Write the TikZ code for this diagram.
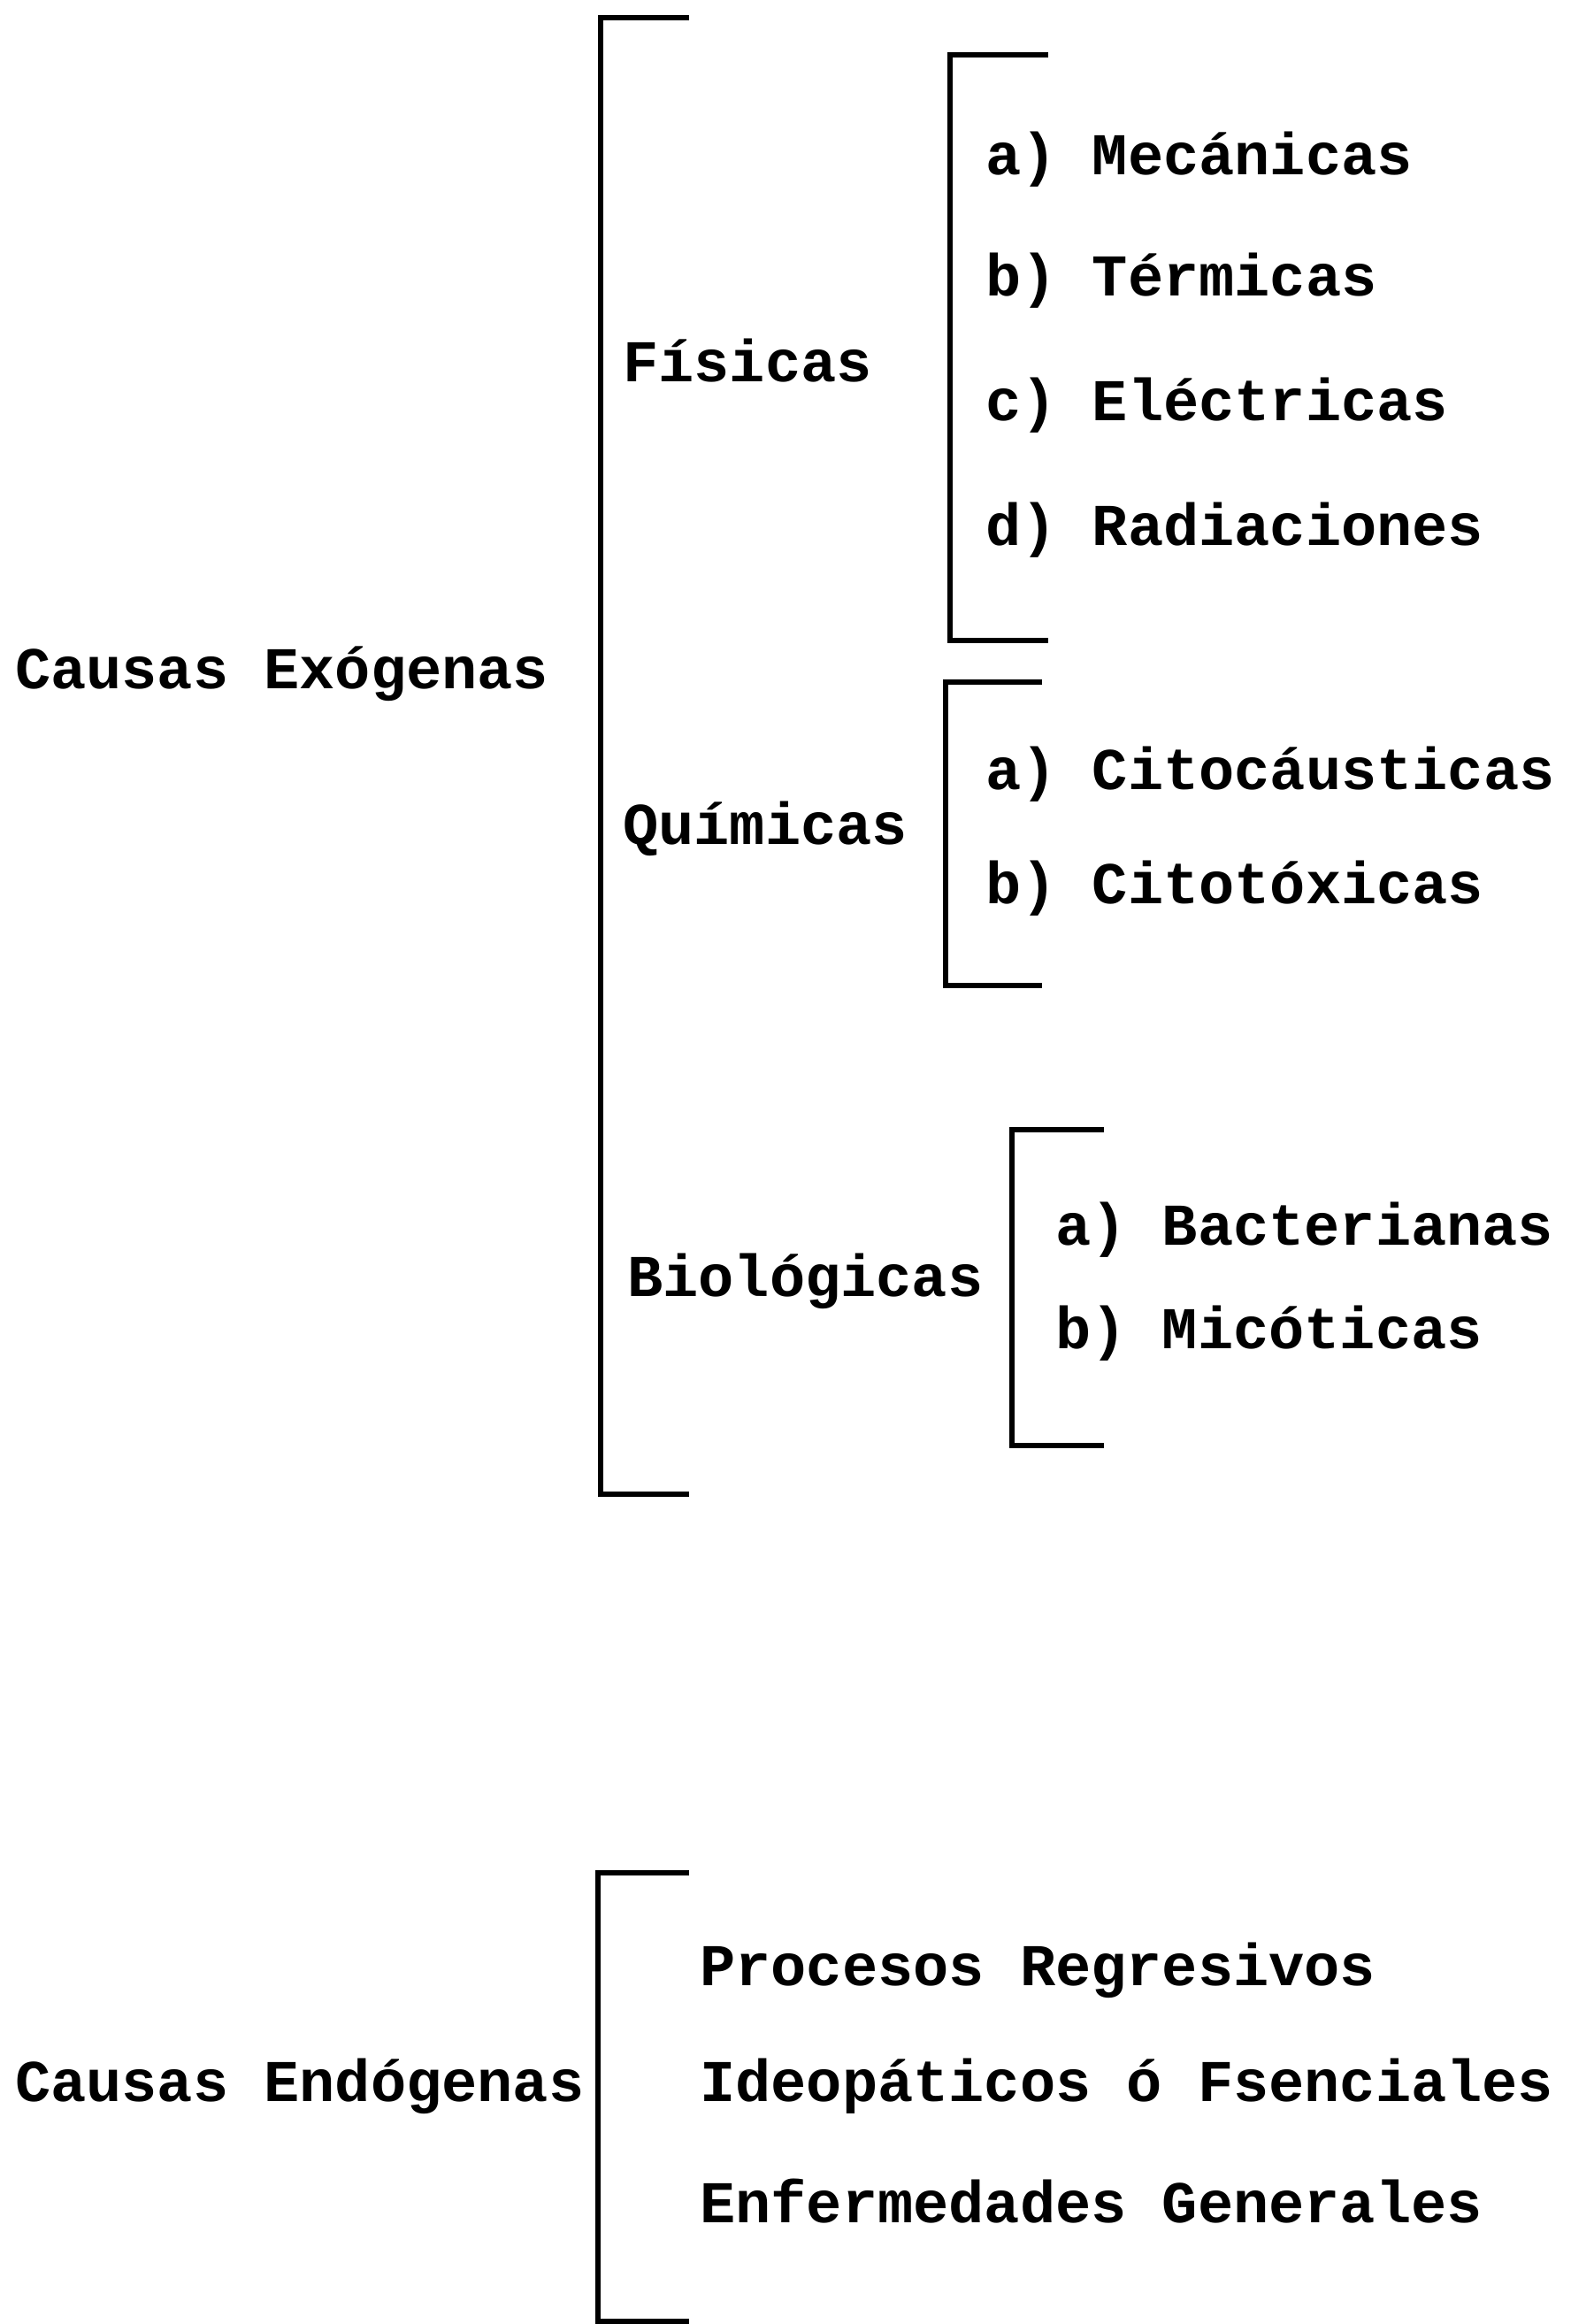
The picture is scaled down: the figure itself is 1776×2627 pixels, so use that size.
\documentclass[tikz,border=0pt]{standalone}
\usepackage{fontspec}
\usepackage{tikz}
\usetikzlibrary{positioning}
\newfontfamily\typewriter{Liberation Mono}

\begin{document}
\begin{tikzpicture}[x=1pt, y=-1pt,
    txt/.style={anchor=west, inner sep=0pt, text height=0.62em, text depth=0.2em,
      font=\typewriter\bfseries\fontsize{67}{80}\selectfont},
    brk/.style={line width=6pt, line join=miter}]
      \useasboundingbox (0,0) rectangle (1776,2627);

      % Causas Exogenas
      \draw[brk] (779,20) -- (679,20) -- (679,1689) -- (779,1689);
      \node[txt] (exo) at (17,776) {Causas Exógenas};

      % Fisicas
      \node[txt] (fis) at (704,429) {Físicas};
      \draw[brk] (1185,62) -- (1074,62) -- (1074,724) -- (1185,724);
      \node[txt] (mec) at (1114,195) {a) Mecánicas};
      \node[txt] (ter) at (1114,332) {b) Térmicas};
      \node[txt] (ele) at (1114,473) {c) Eléctricas};
      \node[txt] (rad) at (1114,614) {d) Radiaciones};

      % Quimicas
      \node[txt] (qui) at (704,952) {Químicas};
      \draw[brk] (1178,771) -- (1069,771) -- (1069,1114) -- (1178,1114);
      \node[txt] (cau) at (1114,890) {a) Citocáusticas};
      \node[txt] (tox) at (1114,1019) {b) Citotóxicas};

      % Biologicas
      \node[txt] (bio) at (709,1463) {Biológicas};
      \draw[brk] (1248,1277) -- (1144,1277) -- (1144,1634) -- (1248,1634);
      \node[txt] (bac) at (1193,1405) {a) Bacterianas};
      \node[txt] (mic) at (1193,1522) {b) Micóticas};

      % Causas Endogenas
      \draw[brk] (779,2117) -- (676,2117) -- (676,2624) -- (779,2624);
      \node[txt] (endo) at (17,2373) {Causas Endógenas};
      \node[txt] (reg) at (791,2242) {Procesos Regresivos};
      \node[txt] (ide) at (791,2373) {Ideopáticos ó Fsenciales};
      \node[txt] (gen) at (791,2510) {Enfermedades Generales};
    \end{tikzpicture}
\end{document}
